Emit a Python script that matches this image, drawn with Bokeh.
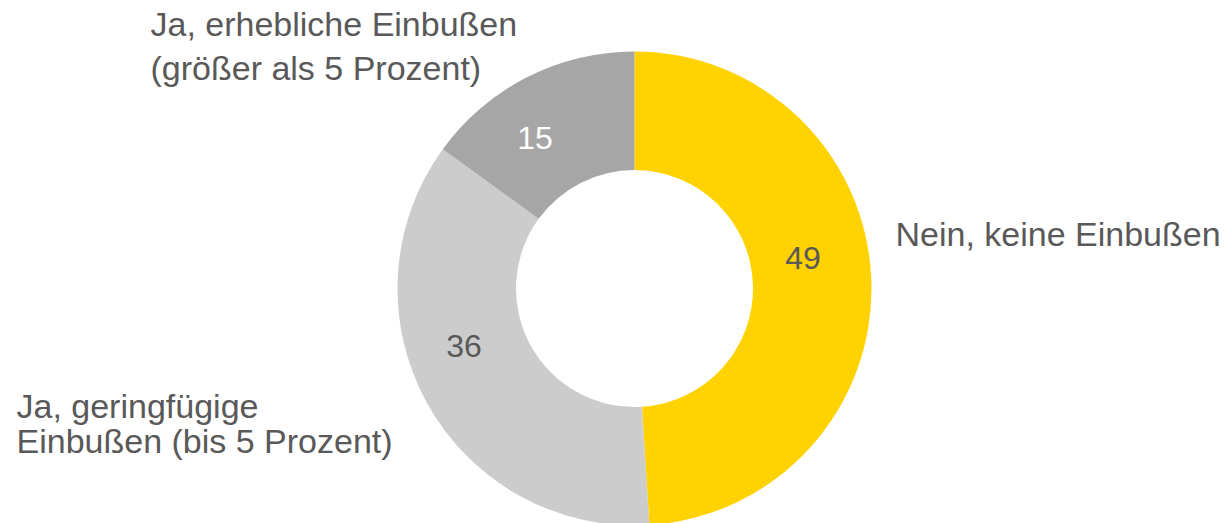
import math
from bokeh.plotting import figure
from bokeh.models import Range1d, ColumnDataSource
from bokeh.core.properties import value
from bokeh.embed import file_html
from bokeh.resources import INLINE

# ---- data ----
categories = ["Nein, keine Einbußen",
              "Ja, geringfügige Einbußen (bis 5 Prozent)",
              "Ja, erhebliche Einbußen (größer als 5 Prozent)"]
values = [49, 36, 15]
colors = ["#FFD200", "#CCCCCC", "#A6A6A6"]
value_text_colors = ["#595959", "#595959", "#FFFFFF"]

# category label lines (as shown in the chart)
label_lines = [["Nein, keine Einbußen"],
               ["Ja, geringfügige", "Einbußen (bis 5 Prozent)"],
               ["Ja, erhebliche Einbußen", "(größer als 5 Prozent)"]]

W, H = 1226, 523

p = figure(width=W, height=H, output_backend="svg", toolbar_location=None,
           x_range=Range1d(0, W), y_range=Range1d(0, H),
           min_border=0, outline_line_color=None)
p.axis.visible = False
p.grid.visible = False
p.background_fill_color = "white"
p.border_fill_color = "white"

# donut geometry (screen px)
cx, cy = 634, 288
r_out, r_in = 237, 118.5
ycenter = H - cy

total = sum(values)
starts, ends = [], []
a = math.pi / 2
for v in values:
    starts.append(a)
    a -= 2 * math.pi * v / total
    ends.append(a)

src = ColumnDataSource(dict(start=starts, end=ends, color=colors, cat=categories))
p.annular_wedge(x=cx, y=ycenter, inner_radius=r_in, outer_radius=r_out,
                inner_radius_units="screen", outer_radius_units="screen",
                start_angle="start", end_angle="end", direction="clock",
                fill_color="color", line_color=None, source=src)

font = value("Liberation Sans")
txt_color = "#595959"

# value labels (positions inside the ring, screen px)
val_pos = [(802.5, 257), (463.5, 345), (534.5, 137)]
p.text(x=[q[0] for q in val_pos], y=[H - q[1] for q in val_pos],
       text=[str(v) for v in values], text_font=font, text_font_size="32px",
       text_color=value_text_colors, text_align="center",
       text_baseline="alphabetic")

# category labels
cat_pos = [[(895, 233)],
           [(16, 405), (16, 440)],
           [(150, 23), (150, 67)]]
xs, ys, ts = [], [], []
for lines, poss in zip(label_lines, cat_pos):
    for t, (x, y) in zip(lines, poss):
        xs.append(x)
        ys.append(H - y)
        ts.append(t)
p.text(x=xs, y=ys, text=ts, text_font=font, text_font_size="34px",
       text_color=txt_color, text_align="left", text_baseline="alphabetic")

open("out.html", "w").write(file_html(p, INLINE))
